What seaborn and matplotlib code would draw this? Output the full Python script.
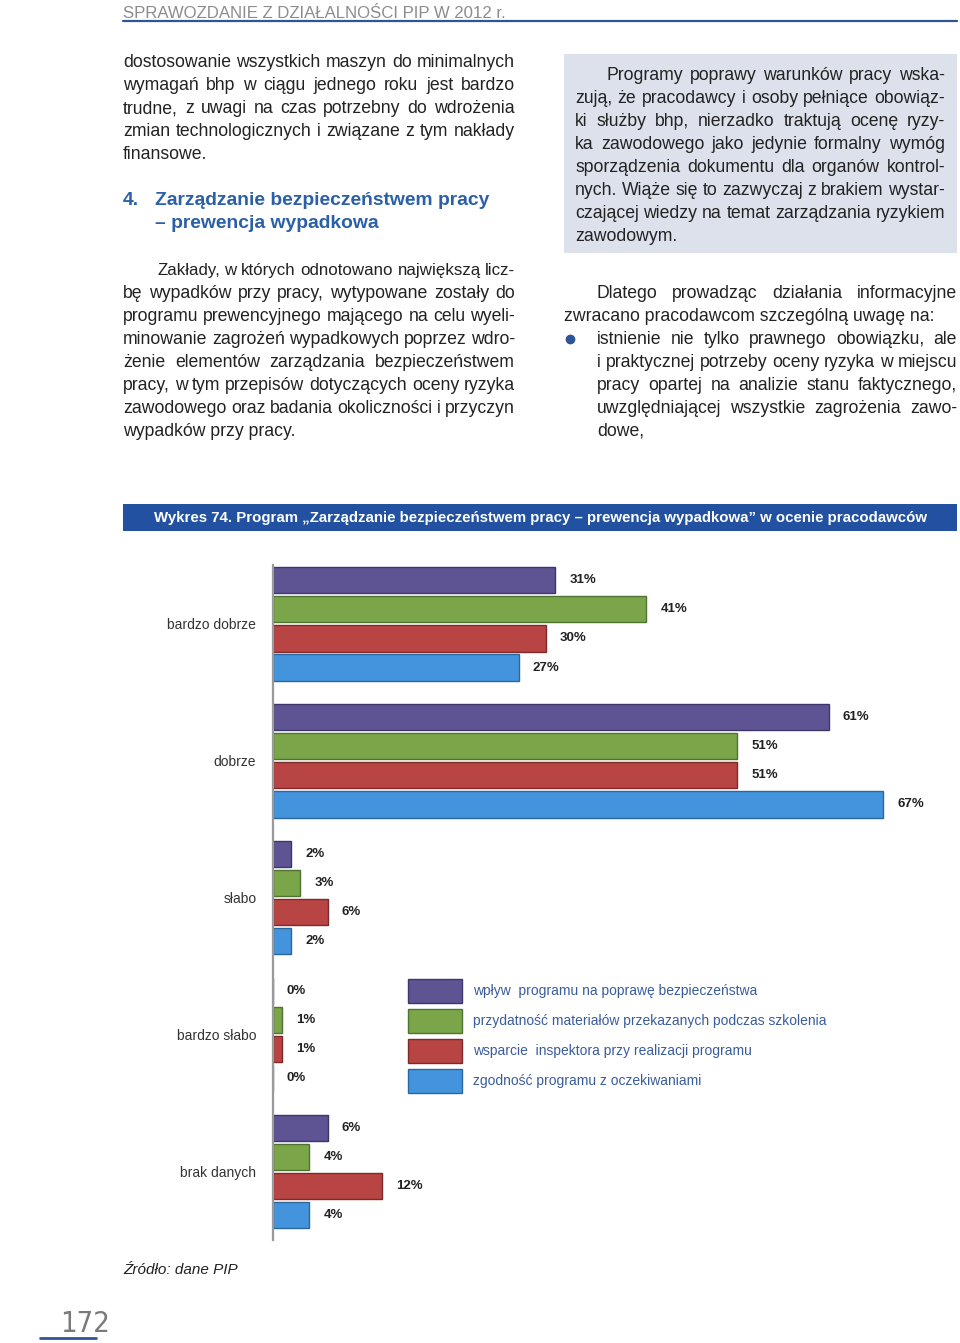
import matplotlib
matplotlib.use("Agg")
import matplotlib.pyplot as plt
import seaborn as sns
import pandas as pd
from matplotlib.patches import Rectangle, Patch
from matplotlib.lines import Line2D

# ---------------- data ----------------
categories = ['bardzo dobrze', 'dobrze', 'słabo', 'bardzo słabo', 'brak danych']
series_names = ['wpływ  programu na poprawę bezpieczeństwa',
                'przydatność materiałów przekazanych podczas szkolenia',
                'wsparcie  inspektora przy realizacji programu',
                'zgodność programu z oczekiwaniami']
wplyw = [31, 61, 2, 0, 6]
przydatnosc = [41, 51, 3, 1, 4]
wsparcie = [30, 51, 6, 1, 12]
zgodnosc = [27, 67, 2, 0, 4]
series_values = [wplyw, przydatnosc, wsparcie, zgodnosc]
colors = ['#5E5494', '#7AA548', '#B94444', '#4394DC']
edge_colors = ['#3E3668', '#4F7330', '#7E2A2A', '#2A679E']

chart_title = 'Wykres 74. Program \u201eZarządzanie bezpieczeństwem pracy \u2013 prewencja wypadkowa\u201d w ocenie pracodawców'
header_text = 'SPRAWOZDANIE Z DZIAŁALNOŚCI PIP W 2012 r.'
source_text = 'Źródło: dane PIP'
page_number = '172'

para1 = ['dostosowanie wszystkich maszyn do minimalnych',
         'wymagań bhp w ciągu jednego roku jest bardzo',
         'trudne, z uwagi na czas potrzebny do wdrożenia',
         'zmian technologicznych i związane z tym nakłady',
         'finansowe.']
heading_num = '4.'
heading_lines = ['Zarządzanie bezpieczeństwem pracy', '\u2013 prewencja wypadkowa']
para2 = ['Zakłady, w których odnotowano największą licz-',
         'bę wypadków przy pracy, wytypowane zostały do',
         'programu prewencyjnego mającego na celu wyeli-',
         'minowanie zagrożeń wypadkowych poprzez wdro-',
         'żenie elementów zarządzania bezpieczeństwem',
         'pracy, w tym przepisów dotyczących oceny ryzyka',
         'zawodowego oraz badania okoliczności i przyczyn',
         'wypadków przy pracy.']
box_lines = ['Programy poprawy warunków pracy wska-',
             'zują, że pracodawcy i osoby pełniące obowiąz-',
             'ki służby bhp, nierzadko traktują ocenę ryzy-',
             'ka zawodowego jako jedynie formalny wymóg',
             'sporządzenia dokumentu dla organów kontrol-',
             'nych. Wiąże się to zazwyczaj z brakiem wystar-',
             'czającej wiedzy na temat zarządzania ryzykiem',
             'zawodowym.']
para3 = ['Dlatego prowadząc działania informacyjne',
         'zwracano pracodawcom szczególną uwagę na:']
bullet_lines = ['istnienie nie tylko prawnego obowiązku, ale',
                'i praktycznej potrzeby oceny ryzyka w miejscu',
                'pracy opartej na analizie stanu faktycznego,',
                'uwzględniającej wszystkie zagrożenia zawo-',
                'dowe,']

# ---------------- setup ----------------
sns.set_theme(style='white')
plt.rcParams['font.family'] = ['Liberation Sans', 'DejaVu Sans']

W, H = 960, 1343
fig = plt.figure(figsize=(W / 100, H / 100), dpi=100)
fig.patch.set_facecolor('white')
renderer = fig.canvas.get_renderer()

TEXT_C = '#222222'
BODY = 12.7
MIN_GAP = 4.5


def fx(x):
    return x / W


def fy(y):
    return 1 - y / H


def text_width(s, **kw):
    t = fig.text(0, 0, s, **kw)
    w = t.get_window_extent(renderer).width
    t.remove()
    return w


def line(x0, x1, yb, s, justify=True, **kw):
    kw.setdefault('fontsize', BODY)
    kw.setdefault('color', TEXT_C)
    if not justify:
        fig.text(fx(x0), fy(yb), s, va='baseline', ha='left', **kw)
        return
    words = s.split(' ')
    widths = [text_width(w, **kw) for w in words]
    gap = (x1 - x0 - sum(widths)) / max(len(words) - 1, 1)
    if gap < MIN_GAP:
        space = MIN_GAP * (len(words) - 1)
        scale = (x1 - x0 - space) / sum(widths)
        kw['fontsize'] = kw['fontsize'] * scale
        widths = [w * scale for w in widths]
        gap = MIN_GAP
    x = x0
    for w, wd in zip(words, widths):
        fig.text(fx(x), fy(yb), w, va='baseline', ha='left', **kw)
        x += wd + gap


def paragraph(lines, x0, x1, y_first, indent_x=None, step=23, **kw):
    for i, s in enumerate(lines):
        start = indent_x if (i == 0 and indent_x is not None) else x0
        last = (i == len(lines) - 1)
        line(start, x1, y_first + i * step, s, justify=not last, **kw)


def fit_size(s, target, base=10, **kw):
    w = text_width(s, fontsize=base, **kw)
    return base * target / w


# ---------------- header ----------------
hs = fit_size(header_text, 385)
fig.text(fx(123), fy(18), header_text, fontsize=hs, color='#8C8C8C', va='baseline')
fig.add_artist(Line2D([fx(123), fx(957)], [fy(21), fy(21)], color='#2E5597', lw=1.6))

# ---------------- left column ----------------
paragraph(para1, 123, 515, 67)
HEAD = 13.9
fig.text(fx(123), fy(205), heading_num, fontsize=HEAD, fontweight='bold', color='#2B60A8', va='baseline')
fig.text(fx(155), fy(205), heading_lines[0], fontsize=HEAD, fontweight='bold', color='#2B60A8', va='baseline')
fig.text(fx(155), fy(228), heading_lines[1], fontsize=HEAD, fontweight='bold', color='#2B60A8', va='baseline')
paragraph(para2, 123, 515, 275, indent_x=157)

# ---------------- right column ----------------
fig.add_artist(Rectangle((fx(564), fy(253)), fx(957) - fx(564), fy(54) - fy(253),
                         transform=fig.transFigure, facecolor='#DCE1EC', edgecolor='none', zorder=0))
paragraph(box_lines, 575, 945, 80, indent_x=607)
line(597, 957, 298, para3[0], justify=True)
line(564, 957, 321, para3[1], justify=False)
fig.add_artist(Line2D([fx(570)], [fy(339)], marker='o', markersize=6, color='#2E5597', lw=0))
paragraph(bullet_lines, 597, 957, 344)

# ---------------- chart title bar ----------------
fig.add_artist(Rectangle((fx(123), fy(531)), fx(957) - fx(123), fy(504) - fy(531),
                         transform=fig.transFigure, facecolor='#2151A0', edgecolor='none'))
ts = fit_size(chart_title, 775, fontweight='bold')
fig.text(fx(540), fy(522), chart_title, fontsize=ts, fontweight='bold', color='white',
         ha='center', va='baseline')

# ---------------- bar chart ----------------
rows = []
for name, vals in zip(series_names, series_values):
    for c, v in zip(categories, vals):
        rows.append({'category': c, 'series': name, 'value': v})
df = pd.DataFrame(rows)

ax = fig.add_axes([fx(273), fy(1240), fx(956) - fx(273), fy(565) - fy(1240)])
sns.barplot(data=df, x='value', y='category', hue='series', orient='h',
            order=categories, hue_order=series_names, palette=colors,
            width=0.85, gap=0.1, ax=ax, legend=False, saturation=1)

for cont, ec, vals in zip(ax.containers, edge_colors, series_values):
    for p in cont:
        p.set_edgecolor(ec)
        p.set_linewidth(1.0)
    ax.bar_label(cont, labels=[f'{v}%' for v in vals], padding=10,
                 fontsize=9.5, fontweight='bold', color='#222222')

ax.set_xlim(0, 75)
ax.set_ylim(4.5, -0.43)
ax.set_xlabel('')
ax.set_ylabel('')
ax.set_xticks([])
ax.tick_params(axis='y', length=0, pad=12, labelsize=10, labelcolor='#333333')
for s in ['top', 'right', 'bottom']:
    ax.spines[s].set_visible(False)
ax.spines['left'].set_color('#9A9A9A')
ax.spines['left'].set_linewidth(1.6)
ax.set_facecolor('none')

handles = [Patch(facecolor=c, edgecolor=ec, linewidth=1.0) for c, ec in zip(colors, edge_colors)]
fig.legend(handles, series_names, loc='upper left',
           bbox_to_anchor=(fx(408), fy(979)), bbox_transform=fig.transFigure,
           frameon=False, fontsize=10, handlelength=3.9, handleheight=2.25,
           labelspacing=0.45, handletextpad=0.8, borderpad=0, borderaxespad=0,
           labelcolor='#3A5C9C')

# ---------------- footer ----------------
fig.text(fx(123), fy(1274), source_text, fontsize=11, fontstyle='italic', color='#222222', va='baseline')
fig.text(fx(60), fy(1332), page_number, fontsize=21, color='#7A7A7A', va='baseline',
         fontstretch='condensed', family=['DejaVu Sans', 'Liberation Sans'])
fig.add_artist(Line2D([fx(40), fx(96)], [fy(1338), fy(1338)], color='#2E5597', lw=2))

fig.savefig('out.png', dpi=100)
